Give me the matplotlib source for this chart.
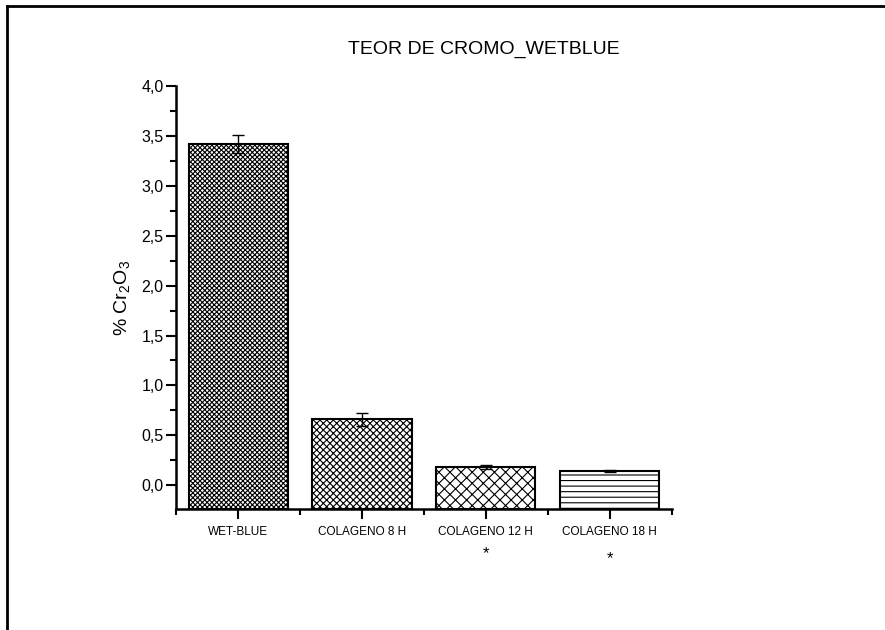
import matplotlib
matplotlib.use("Agg")
import matplotlib.pyplot as plt
from matplotlib.lines import Line2D
from matplotlib.transforms import blended_transform_factory

plt.rcParams["font.family"] = ["Liberation Sans", "DejaVu Sans"]
plt.rcParams["mathtext.fontset"] = "custom"
plt.rcParams["mathtext.rm"] = "Liberation Sans"
plt.rcParams["hatch.linewidth"] = 0.8

# data
categories = ["WET-BLUE", "COLAGENO 8 H", "COLAGENO 12 H", "COLAGENO 18 H"]
cr2o3 = [3.42, 0.66, 0.185, 0.14]
cr2o3_err = [0.09, 0.063, 0.02, 0.01]
hatches = ["x" * 7, "x" * 5, "xxx", "---"]
star_marks = [False, False, True, True]

Y_MIN = -0.24

fig = plt.figure(figsize=(8.85, 6.3), dpi=100)
ax = fig.add_axes([0.199, 0.192, 0.56, 0.671])

x = range(len(categories))
# bars start at the bottom of the axis, as in the original
heights = [v - Y_MIN for v in cr2o3]
bars = ax.bar(x, heights, bottom=Y_MIN, width=0.8, color="white",
              edgecolor="black", linewidth=1.5, zorder=2)
for b, h in zip(bars, hatches):
    b.set_hatch(h)
ax.errorbar(x, cr2o3, yerr=cr2o3_err, fmt="none", ecolor="black",
            elinewidth=1, capsize=4, capthick=1, zorder=3)

ax.set_xlim(-0.5, 3.5)
ax.set_ylim(Y_MIN, 4.0)
ax.set_xticks(list(x))
ax.set_xticklabels(categories, fontsize=8.5)
ax.set_xticks([-0.5, 0.5, 1.5, 2.5, 3.5], minor=True)
ax.set_yticks([0, 0.5, 1, 1.5, 2, 2.5, 3, 3.5, 4])
ax.set_yticklabels([f"{v:.1f}".replace(".", ",") for v in ax.get_yticks()],
                   fontsize=11.5)
ax.set_yticks([0.25, 0.75, 1.25, 1.75, 2.25, 2.75, 3.25, 3.75], minor=True)
ax.tick_params(axis="both", which="major", direction="out", length=7,
               width=1.5)
ax.tick_params(axis="both", which="minor", direction="out", length=4,
               width=1.5)
ax.tick_params(axis="x", which="major", pad=5)
ax.tick_params(axis="y", which="major", pad=2)

for side in ["top", "right"]:
    ax.spines[side].set_visible(False)
for side in ["left", "bottom"]:
    ax.spines[side].set_linewidth(1.8)

ax.set_ylabel(r"% Cr$_\mathregular{2}$O$_\mathregular{3}$", fontsize=14,
              labelpad=6)
fig.text(0.547, 0.922, "TEOR DE CROMO_WETBLUE", fontsize=14,
         ha="center", va="center")

# significance stars under the x labels
trans = blended_transform_factory(ax.transData, fig.transFigure)
star_y = [0.0, 0.0, 0.122, 0.114]
for xi, flag, sy in zip(x, star_marks, star_y):
    if flag:
        ax.text(xi, sy, "*", transform=trans, ha="center", va="center",
                fontsize=12)

# frame around the figure (left and top edges visible)
fig.add_artist(Line2D([0.008, 0.008], [0.0, 0.99], transform=fig.transFigure,
                      color="black", linewidth=2))
fig.add_artist(Line2D([0.008, 1.0], [0.99, 0.99], transform=fig.transFigure,
                      color="black", linewidth=2))

fig.savefig("out.png", dpi=100)
